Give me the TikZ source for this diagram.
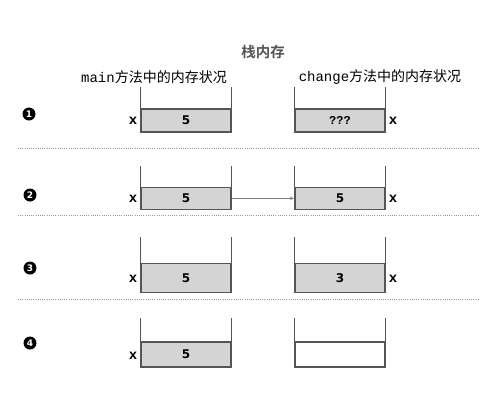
\documentclass[tikz,border=0pt]{standalone}
\usepackage{fontspec}
\setmainfont{DejaVu Sans}
\newfontfamily\cjk{Noto Sans CJK SC}
\newfontfamily\cjkbold{Noto Sans CJK SC Bold}
\newfontfamily\monof{Liberation Mono}
\usetikzlibrary{arrows.meta}
\definecolor{edge}{HTML}{555555}
\definecolor{cellfill}{HTML}{D4D4D4}
\begin{document}
\begin{tikzpicture}[x=1pt,y=-1pt,
  cell/.style={draw=edge,line width=1.2pt,fill=cellfill,minimum width=90pt,inner sep=0pt,font=\bfseries\fontsize{12pt}{12pt}\selectfont},
  emptycell/.style={cell,fill=white},
  wall/.style={draw=edge,line width=1.2pt},
  varlbl/.style={font=\monof\bfseries\fontsize{14pt}{14pt}\selectfont,inner sep=0pt},
  sep/.style={draw=gray!80,line width=0.8pt,dash pattern=on 1pt off 1.2pt},
  stepnum/.style={circle,fill=black,text=white,inner sep=0pt,minimum size=13pt,font=\bfseries\fontsize{9pt}{9pt}\selectfont},
  head/.style={font=\fontsize{14pt}{14pt}\selectfont,inner sep=0pt},
  flow/.style={draw=gray,line width=0.9pt,-{Latex[length=4pt,width=3.5pt]}}]
\useasboundingbox (0,0) rectangle (480,408);
% title and headers
\node[inner sep=0pt,text=edge,font=\cjkbold\fontsize{14.5pt}{14.5pt}\selectfont] (title) at (263,52) {栈内存};
\node[head] (hmain) at (154,77) {\monof main\cjk 方法中的内存状况};
\node[head] (hchange) at (380,77) {\monof change\cjk 方法中的内存状况};
% step numbers
\node[stepnum] (n1) at (29,114) {1};
\node[stepnum] (n2) at (30,195) {2};
\node[stepnum] (n3) at (30,268) {3};
\node[stepnum] (n4) at (30,343) {4};
% separators
\coordinate (s1a) at (18,148.5); \coordinate (s1b) at (480,148.5);
\coordinate (s2a) at (18,215); \coordinate (s2b) at (480,215);
\coordinate (s3a) at (18,299.5); \coordinate (s3b) at (480,299.5);
\draw[sep] (s1a) -- (s1b);
\draw[sep] (s2a) -- (s2b);
\draw[sep] (s3a) -- (s3b);
% row 1
\node[cell,minimum height=23pt] (c1l) at (186,120.5) {5};
\node[cell,minimum height=23pt] (c1r) at (340,120.5) {\monof\bfseries ???};
\draw[wall] (c1l.north west) -- ++(0,-21); \draw[wall] (c1l.north east) -- ++(0,-21);
\draw[wall] (c1r.north west) -- ++(0,-21); \draw[wall] (c1r.north east) -- ++(0,-21);
\node[varlbl] (x1l) at (133,121) {x};
\node[varlbl] (x1r) at (393,121) {x};
% row 2
\node[cell,minimum height=22pt] (c2l) at (186,198.3) {5};
\node[cell,minimum height=22pt] (c2r) at (340,198.3) {5};
\draw[wall] (c2l.north west) -- ++(0,-21); \draw[wall] (c2l.north east) -- ++(0,-21);
\draw[wall] (c2r.north west) -- ++(0,-21); \draw[wall] (c2r.north east) -- ++(0,-21);
\node[varlbl] (x2l) at (133,199) {x};
\node[varlbl] (x2r) at (393,199) {x};
\draw[flow] (c2l.east) -- (c2r.west);
% row 3
\node[cell,minimum height=29.5pt] (c3l) at (186,278) {5};
\node[cell,minimum height=29.5pt] (c3r) at (340,278) {3};
\draw[wall] (c3l.north west) -- ++(0,-26); \draw[wall] (c3l.north east) -- ++(0,-26);
\draw[wall] (c3r.north west) -- ++(0,-26); \draw[wall] (c3r.north east) -- ++(0,-26);
\node[varlbl] (x3l) at (133,279) {x};
\node[varlbl] (x3r) at (393,279) {x};
% row 4
\node[cell,minimum height=25pt] (c4l) at (186,354.5) {5};
\node[emptycell,minimum height=25pt] (c4r) at (340,354.5) {};
\draw[wall] (c4l.north west) -- ++(0,-23.5); \draw[wall] (c4l.north east) -- ++(0,-23.5);
\draw[wall] (c4r.north west) -- ++(0,-23.5); \draw[wall] (c4r.north east) -- ++(0,-23.5);
\node[varlbl] (x4l) at (133,355.5) {x};
\end{tikzpicture}
\end{document}
